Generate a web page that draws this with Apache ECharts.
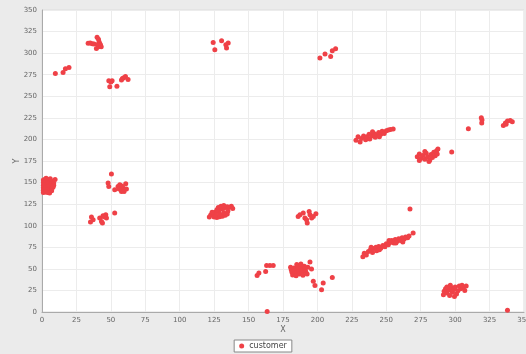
<!DOCTYPE html>
<html>
<head>
<meta charset="utf-8">
<script src="https://cdn.jsdelivr.net/npm/echarts@6/dist/echarts.min.js"></script>
<style>
  html, body { margin: 0; padding: 0; background: #ebebeb; }
  #chart { width: 526px; height: 354px; }
</style>
</head>
<body>
<div id="chart"></div>
<script>
// Axis ticks (both axes run 0..350 in steps of 25)
const xTicks = [0, 25, 50, 75, 100, 125, 150, 175, 200, 225, 250, 275, 300, 325, 350];
const yTicks = [0, 25, 50, 75, 100, 125, 150, 175, 200, 225, 250, 275, 300, 325, 350];
const seriesName = 'customer';

// Customer locations, grouped by neighbourhood
const groupTopLeft = [[33.5,311.5],[35,311.8],[36.5,311],[37.8,310.5],[40,318.5],[41,316],[41.5,313],[42,311],[39.5,305.5],[41,307.5],[43,307.5],[42.5,309.5],[40.5,310]];
const groupNearTop = [[9.7,276.5],[15.3,277.5],[17,282],[19.6,283.5]];
const groupUpperMid = [[48.5,268],[50.9,268],[49.2,261],[54.4,261.5],[57.7,269],[59.4,271.5],[60.6,273],[62.5,269.5],[58.4,270.5],[50,266.5]];
const groupTop125 = [[124.3,312.4],[125.5,304],[130.4,314.4],[133.5,309.7],[135.2,311.7],[134,305.9]];
const groupTop205 = [[201.8,294.3],[205.5,299],[209.6,296.2],[210.8,302.8],[213.2,305.2]];
const groupEdge = [[1,153],[2.5,154],[4,153.5],[5.5,152.5],[7,151.5],[1,150],[2.5,150.5],[4,151],[5.5,149.5],[7,149],[8.5,149.5],[1,147],[2.5,147.5],[4,148],[5.5,146.5],[7,146],[8.5,147],[1,144],[2.5,144.5],[4,145],[5.5,143.5],[7,143],[8,144.5],[1,141],[2.5,141.5],[4,142],[5.5,140.5],[7,140.5],[1,138.5],[2.5,139],[4,138.5],[5.5,138],[9.5,153.5],[6,154.5],[3,155]];
const groupMid55 = [[50.4,160],[48,149.5],[48.5,145.5],[52.8,141.7],[55.2,145.5],[56.5,147.5],[58.9,143.7],[60.8,148.7],[59.6,139.7],[57.7,139.7],[61.3,142.5],[58,146],[56,142.5]];
const groupMid40 = [[35.9,110],[37.1,107],[35.2,104.3],[41.9,109],[43.2,105],[44.3,111.6],[46.3,112.7],[46.8,109],[43.9,103.1],[52.8,114.7],[45,110.5]];
const groupMid130 = [[121.5,110],[122.5,112.5],[124,114],[125.5,115.5],[127,116.5],[128.5,118],[130,119.5],[131.5,120],[133,121],[134.5,122],[136,121.5],[137.5,122.5],[138.5,120],[130,122.5],[132,123.5],[128,121],[125,110],[127,109.5],[129,110.5],[131,111],[133,112],[134.5,113.5],[126,112.5],[129,113.5],[132,115],[135,117],[123.5,115.5],[127,118.5]];
const groupMid190 = [[186,110.8],[187.3,112.7],[189.7,114.7],[190.9,109],[192.1,107],[192.6,103.1],[194.6,112.7],[195.8,109],[197,110.8],[198.9,113.9],[194,116.6]];
const groupRight240 = [[228,199],[229.5,203],[231,197],[232,201],[233.5,204],[235,199.5],[236,203],[237.5,206],[238,200.5],[239.5,204],[241,207],[242,202.5],[243,205.5],[244.5,208],[246,206],[247,209.5],[248.5,207],[250,210],[251.5,211],[253,211.5],[255,212],[245,203],[240,209]];
const groupRight280 = [[272.5,180],[274,183],[275,178],[276.5,181.5],[278,177],[279,184],[280,180],[281.5,176],[282.5,182.5],[283.5,179],[284.5,185],[285.5,181],[286.5,187],[287.5,189],[287,183],[278,186],[281,174.5],[274,175.5],[297.5,185.5]];
const groupFarRight = [[309.6,212.4],[319.3,219],[319.5,222.5],[319,225],[335,216],[336.5,219],[338,221.5],[340,222],[341.5,220.5],[337,217.5],[267.2,119.5]];
const groupLow250 = [[233,64],[234,68],[235.5,66],[237,70],[238.5,72],[240,69],[241,73.5],[242.5,75],[243,71],[244.5,76],[246,74],[247.5,77],[249,75.5],[250,79],[251.5,78],[253,80.5],[254,83],[255.5,80],[256.5,84],[258,82],[259,85],[260.5,83],[261.5,86],[263,84.5],[264,87],[265.5,86],[266.5,88],[262,81],[257,80],[252,83],[245,72],[239,75],[269.5,91.5]];
const groupLow300 = [[291.5,20],[292,24],[293,27],[294,22],[295.5,25.5],[296,19],[297,28],[298,23],[299,26],[300,29],[301,21],[302,24.5],[303,30],[304,27],[305,31],[306,28.5],[307,25],[308,30],[296.5,31],[299.5,18],[294,29],[338,2]];
const groupLow160 = [[156.2,42.4],[157.5,45.2],[162.4,47],[163.1,54],[165.5,54],[167.9,54],[163.5,0.5]];
const groupLow185 = [[180.5,52],[181,49],[181.5,46],[182,43],[183,51],[183.5,48],[184,45],[184.5,42],[185.5,53],[186,50],[186.5,47],[187,44],[188,51.5],[188.5,48.5],[189,45.5],[189.5,42.5],[190.5,53],[191,50],[191.5,47],[192.5,44],[193,52],[185,55],[188,55.5],[194.6,58],[195.7,49.8],[197,35.5],[198.2,30.8],[203,25.8],[204.2,33.6],[210.8,40.1]];

const points = [].concat(groupTopLeft, groupNearTop, groupUpperMid, groupTop125, groupTop205,
  groupEdge, groupMid55, groupMid40, groupMid130, groupMid190, groupRight240, groupRight280,
  groupFarRight, groupLow250, groupLow300, groupLow160, groupLow185);

const chart = echarts.init(document.getElementById('chart'), null, { renderer: 'canvas' });
const labelStyle = { color: '#666', fontSize: 7, fontFamily: 'DejaVu Sans' };
const gridLine = { show: true, lineStyle: { color: '#ececec', width: 1 } };

chart.setOption({
  backgroundColor: '#ebebeb',
  animation: false,
  grid: {
    left: 42, right: 2, top: 10, bottom: 42,
    outerBoundsMode: 'none', containLabel: false,
    show: true, backgroundColor: '#ffffff', borderColor: '#dcdcdc', borderWidth: 1
  },
  xAxis: {
    type: 'value', min: xTicks[0], max: xTicks[xTicks.length - 1], interval: 25,
    name: 'X', nameLocation: 'middle', nameGap: 14, nameMoveOverlap: false,
    nameTextStyle: { color: '#666', fontSize: 8, fontFamily: 'DejaVu Sans' },
    axisLine: { show: true, lineStyle: { color: '#aaa' } },
    axisTick: { show: false },
    axisLabel: Object.assign({ margin: 5 }, labelStyle),
    splitLine: gridLine
  },
  yAxis: {
    type: 'value', min: yTicks[0], max: yTicks[yTicks.length - 1], interval: 25,
    name: 'Y', nameLocation: 'middle', nameGap: 21, nameRotate: 90, nameMoveOverlap: false,
    nameTextStyle: { color: '#666', fontSize: 8, fontFamily: 'DejaVu Sans' },
    axisLine: { show: true, lineStyle: { color: '#aaa' } },
    axisTick: { show: false },
    axisLabel: Object.assign({ margin: 5 }, labelStyle),
    splitLine: gridLine
  },
  legend: {
    bottom: 2, left: 'center',
    data: [seriesName],
    icon: 'circle', itemWidth: 5, itemHeight: 5, itemGap: 4,
    padding: [2, 5, 2, 5],
    borderColor: '#888', borderWidth: 1, backgroundColor: '#fff',
    textStyle: { color: '#444', fontSize: 8, fontFamily: 'DejaVu Sans' }
  },
  series: [{
    name: seriesName,
    type: 'scatter',
    data: points,
    symbol: 'circle',
    symbolSize: 5,
    itemStyle: { color: '#ef4147', opacity: 1 }
  }]
});
</script>
</body>
</html>
